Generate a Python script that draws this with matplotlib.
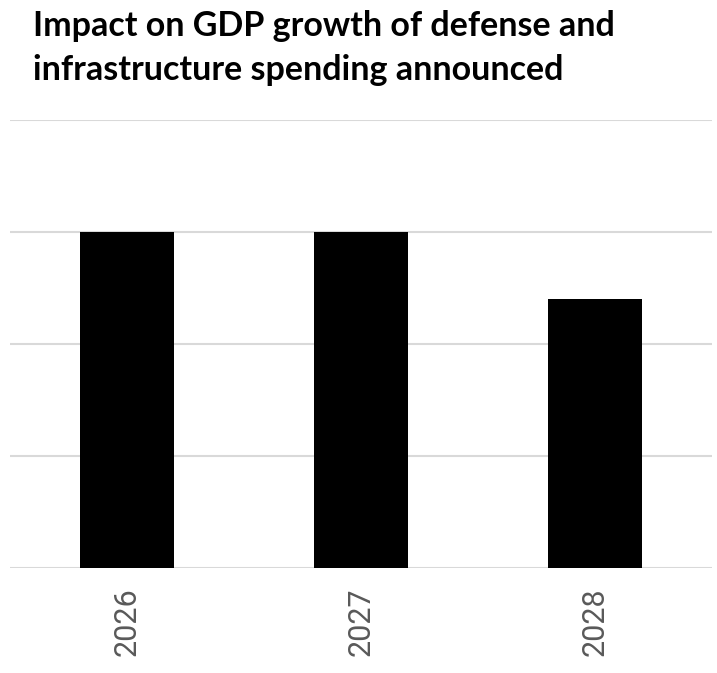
import matplotlib
matplotlib.use('Agg')
import matplotlib.pyplot as plt
import numpy as np

years = ['2026', '2027', '2028']
impact = [0.30, 0.30, 0.24]
grid_ticks = [0.0, 0.1, 0.2, 0.3, 0.4]
title_lines = ['Impact on GDP growth of defense and', 'infrastructure spending announced']

fig = plt.figure(figsize=(7.17, 6.73), dpi=100)
ax = fig.add_axes([10/717, 1 - 568/673, 702/717, (568 - 120)/673])

x = np.arange(len(years))
ax.bar(x, impact, width=0.4, color='black', zorder=3)
ax.set_xlim(-0.5, len(years) - 0.5)
ax.set_ylim(0, 0.4)
ax.set_yticks(grid_ticks)
ax.set_yticklabels([])
ax.tick_params(axis='y', length=0)
ax.grid(axis='y', color='#d9d9d9', linewidth=1.5, zorder=0)
ax.set_xticks(x)
ax.set_xticklabels(years, rotation=90, fontsize=22, color='#595959', family='Roboto')
ax.tick_params(axis='x', length=0, pad=14)
for s in ax.spines.values():
    s.set_visible(False)

# title, two lines placed on their baselines
for i, line in enumerate(title_lines):
    fig.text(33/717, 1 - (36 + 44*i)/673, line, fontsize=24.5, fontweight='bold',
             family='Lato', va='baseline', ha='left')

fig.savefig('out.png', dpi=100)
